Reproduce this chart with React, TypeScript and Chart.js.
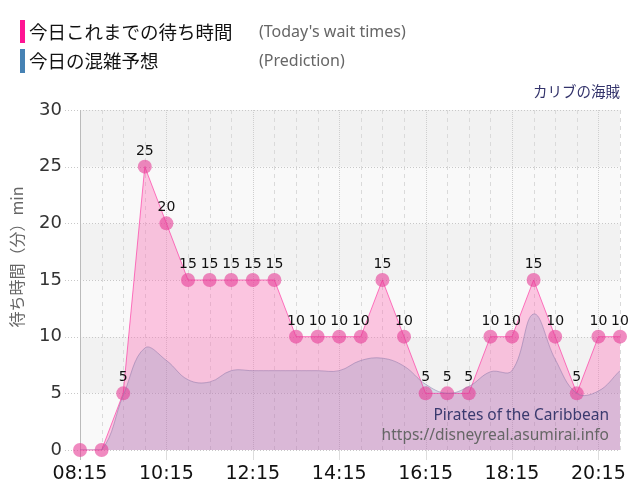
import { useEffect, useRef } from 'react';
import { Chart, registerables } from 'chart.js';

Chart.register(...registerables);

// half-hour slots shown on the x axis
const times = [
  '08:15', '08:45', '09:15', '09:45', '10:15', '10:45', '11:15', '11:45',
  '12:15', '12:45', '13:15', '13:45', '14:15', '14:45', '15:15', '15:45',
  '16:15', '16:45', '17:15', '17:45', '18:15', '18:45', '19:15', '19:45',
  '20:15', '20:45',
];
const tickLabels = ['08:15', '10:15', '12:15', '14:15', '16:15', '18:15', '20:15'];

// today's posted wait times (min)
const waitTimes = [0, 0, 5, 25, 20, 15, 15, 15, 15, 15, 10, 10, 10, 10, 15, 10, 5, 5, 5, 10, 10, 15, 10, 5, 10, 10];
// congestion prediction (min)
const prediction = [0, 0, 4.8, 9, 7.9, 6.2, 6, 7, 7, 7, 7, 7, 7, 7.9, 8.1, 7.4, 5.8, 5, 5.6, 6.9, 7, 12, 8, 5, 5.2, 7];

const yTicks = [0, 5, 10, 15, 20, 25, 30];

const JP = '"Noto Sans CJK JP", sans-serif';
const NUM = '"DejaVu Sans", sans-serif';

// bands, grid lines and axis line behind everything
const backdrop = {
  id: 'backdrop',
  beforeDraw(chart: any) {
    const { ctx, chartArea: a, scales } = chart;
    const x = scales.x;
    const y = scales.y;
    ctx.save();
    for (let i = 0; i < yTicks.length - 1; i++) {
      const top = y.getPixelForValue(yTicks[i + 1]);
      const bottom = y.getPixelForValue(yTicks[i]);
      ctx.fillStyle = i % 2 ? '#f2f2f2' : '#f9f9f9';
      ctx.fillRect(a.left, top, a.right - a.left, bottom - top);
    }
    ctx.lineWidth = 1;
    times.forEach((t, i) => {
      const px = Math.round(x.getPixelForValue(i)) + 0.5;
      const major = tickLabels.includes(t);
      ctx.strokeStyle = major ? '#cfcfcf' : '#dadada';
      ctx.setLineDash(major ? [1, 1] : [4, 4]);
      ctx.beginPath();
      ctx.moveTo(px, a.top);
      ctx.lineTo(px, a.bottom);
      ctx.stroke();
      if (major) {
        ctx.setLineDash([]);
        ctx.strokeStyle = '#dddddd';
        ctx.beginPath();
        ctx.moveTo(px, a.bottom);
        ctx.lineTo(px, a.bottom + 10);
        ctx.stroke();
      }
    });
    yTicks.forEach((v) => {
      const py = Math.round(y.getPixelForValue(v)) + 0.5;
      ctx.setLineDash([1, 2]);
      ctx.strokeStyle = '#c8c8c8';
      ctx.beginPath();
      ctx.moveTo(a.left - 15, py);
      ctx.lineTo(a.right, py);
      ctx.stroke();
    });
    ctx.setLineDash([]);
    ctx.strokeStyle = '#bbbbbb';
    ctx.beginPath();
    ctx.moveTo(a.left + 0.5, a.top);
    ctx.lineTo(a.left + 0.5, a.bottom + 10);
    ctx.stroke();

    // y axis title
    ctx.save();
    ctx.translate(17, 257);
    ctx.rotate(-Math.PI / 2);
    ctx.fillStyle = '#666';
    ctx.font = `16px ${JP}`;
    ctx.textAlign = 'center';
    ctx.textBaseline = 'middle';
    ctx.fillText('待ち時間（分）min', 0, 0);
    ctx.restore();

    // legend
    ctx.fillStyle = '#ff1493';
    ctx.fillRect(20, 20, 5, 23);
    ctx.fillStyle = '#4682b4';
    ctx.fillRect(20, 49, 5, 24);
    ctx.textBaseline = 'middle';
    ctx.textAlign = 'left';
    ctx.fillStyle = '#111';
    ctx.font = `18.5px ${JP}`;
    ctx.fillText('今日これまでの待ち時間', 29, 32);
    ctx.fillText('今日の混雑予想', 29, 61);
    ctx.fillStyle = '#666';
    ctx.font = '16px "Noto Sans", sans-serif';
    ctx.fillText("(Today's wait times)", 259, 32);
    ctx.fillText('(Prediction)', 259, 61);

    ctx.textAlign = 'right';
    ctx.fillStyle = '#33336b';
    ctx.font = `14.5px ${JP}`;
    ctx.fillText('カリブの海賊', 620, 91.5);
    ctx.restore();
  },
};

// value labels and watermark over the data
const overlay = {
  id: 'overlay',
  afterDatasetsDraw(chart: any) {
    const { ctx } = chart;
    const meta = chart.getDatasetMeta(1);
    ctx.save();
    ctx.font = `14px ${NUM}`;
    ctx.fillStyle = '#111';
    ctx.textAlign = 'center';
    ctx.textBaseline = 'alphabetic';
    meta.data.forEach((pt: any, i: number) => {
      if (!waitTimes[i]) return;
      ctx.fillText(String(waitTimes[i]), pt.x, pt.y - 12);
    });
    ctx.textAlign = 'right';
    ctx.textBaseline = 'middle';
    ctx.font = '15.5px "Noto Sans", sans-serif';
    ctx.fillStyle = '#3a3a6e';
    ctx.fillText('Pirates of the Caribbean', 609, 416);
    ctx.fillStyle = '#666';
    ctx.fillText('https://disneyreal.asumirai.info', 609, 436);
    ctx.restore();
  },
};

export default function App() {
  const canvasRef = useRef<HTMLCanvasElement>(null);
  const chartRef = useRef<Chart | null>(null);

  useEffect(() => {
    if (!canvasRef.current) return;
    if (chartRef.current) chartRef.current.destroy();

    chartRef.current = new Chart(canvasRef.current, {
      type: 'line',
      data: {
        labels: times,
        datasets: [
          {
            label: '今日の混雑予想',
            data: prediction,
            order: 0,
            fill: 'origin',
            backgroundColor: 'rgba(70,130,180,0.18)',
            borderColor: 'rgba(140,120,170,0.5)',
            borderWidth: 1,
            tension: 0.4,
            pointRadius: 0,
            pointHoverRadius: 0,
          },
          {
            label: '今日これまでの待ち時間',
            data: waitTimes,
            order: 1,
            fill: 'origin',
            backgroundColor: 'rgba(255,105,180,0.36)',
            borderColor: 'rgba(255,20,147,0.55)',
            borderWidth: 1,
            tension: 0,
            pointRadius: 7,
            pointHoverRadius: 7,
            pointBorderWidth: 0,
            pointBackgroundColor: 'rgba(230,60,150,0.6)',
            clip: 10,
          },
        ],
      },
      options: {
        animation: false,
        responsive: false,
        layout: { padding: { top: 110, right: 20, left: 0, bottom: 0 } },
        plugins: {
          legend: { display: false },
          tooltip: { enabled: false },
          filler: { drawTime: 'beforeDatasetsDraw' },
        },
        scales: {
          x: {
            type: 'category',
            offset: false,
            grid: { display: false, drawTicks: false },
            border: { display: false },
            ticks: {
              autoSkip: false,
              maxRotation: 0,
              padding: 13,
              color: '#111',
              font: { family: NUM, size: 19 },
              callback: (_v: any, i: number) => (tickLabels.includes(times[i]) ? times[i] : ''),
            },
            afterFit: (s: any) => {
              s.height = 50;
            },
          },
          y: {
            min: 0,
            max: 30,
            grid: { display: false, drawTicks: false },
            border: { display: false },
            ticks: {
              stepSize: 5,
              padding: 18,
              color: '#333',
              font: { family: NUM, size: 18 },
            },
            afterFit: (s: any) => {
              s.width = 80;
            },
          },
        },
      },
      plugins: [backdrop, overlay],
    });

    return () => {
      if (chartRef.current) {
        chartRef.current.destroy();
        chartRef.current = null;
      }
    };
  }, []);

  return (
    <div style={{ position: 'absolute', left: 0, top: 0, width: 640, height: 500, background: '#fff' }}>
      <canvas
        ref={canvasRef}
        width={640}
        height={500}
        style={{ display: 'block' }}
        role="img"
        aria-label="今日これまでの待ち時間と今日の混雑予想（カリブの海賊）"
      />
    </div>
  );
}
